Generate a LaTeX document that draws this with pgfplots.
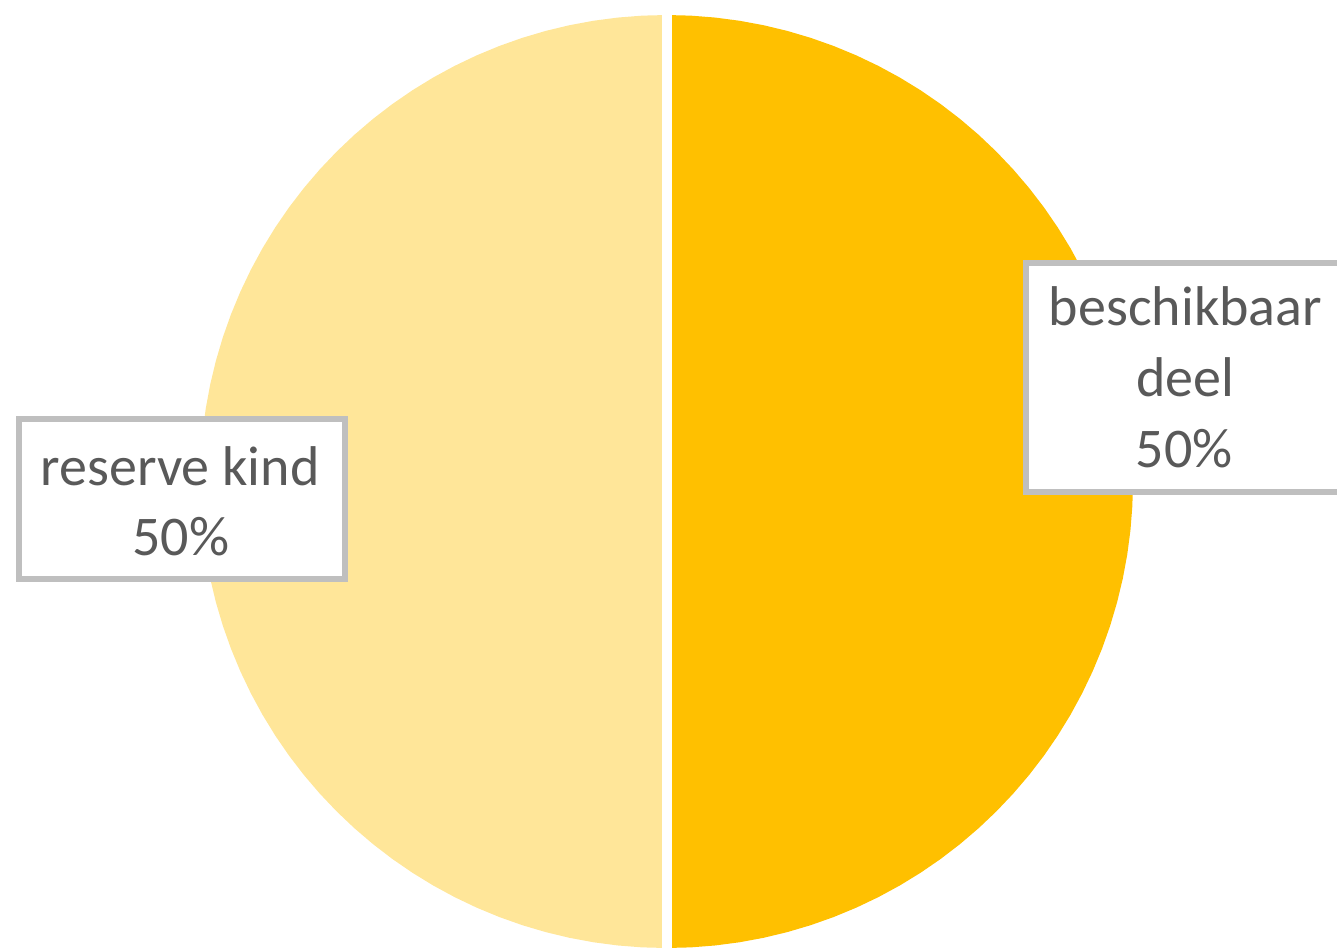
\documentclass[border=0pt]{standalone}
\usepackage{pgfplots}
\pgfplotsset{compat=1.18}
\usepgfplotslibrary{polar}
\usepackage{fontspec}
\setmainfont{Carlito}
\definecolor{reservecol}{HTML}{FFE699}
\definecolor{beschikcol}{HTML}{FFC000}
\definecolor{boxgray}{HTML}{BFBFBF}
\definecolor{txtgray}{HTML}{595959}
\begin{document}
\begin{tikzpicture}
% page = 1337 x 950 px, 1 px = 0.5pt
\path[use as bounding box] (0,0) rectangle (668.5pt,475pt);
\begin{polaraxis}[
    hide axis,
    scale only axis,
    width=466.5pt, height=466.5pt,
    xmin=0, xmax=360,
    ymin=0, ymax=1,
    clip=false,
    anchor=center,
    at={(333.25pt,234.25pt)},
]
% reserve kind, 50%
\addplot[fill=reservecol, draw=none] coordinates {
    (0,0) (90,1) (93,1) (96,1) (99,1) (102,1) (105,1) (108,1) (111,1)
    (114,1) (117,1) (120,1) (123,1) (126,1) (129,1) (132,1) (135,1) (138,1)
    (141,1) (144,1) (147,1) (150,1) (153,1) (156,1) (159,1) (162,1) (165,1)
    (168,1) (171,1) (174,1) (177,1) (180,1) (183,1) (186,1) (189,1) (192,1)
    (195,1) (198,1) (201,1) (204,1) (207,1) (210,1) (213,1) (216,1) (219,1)
    (222,1) (225,1) (228,1) (231,1) (234,1) (237,1) (240,1) (243,1) (246,1)
    (249,1) (252,1) (255,1) (258,1) (261,1) (264,1) (267,1) (270,1)
};
% beschikbaar deel, 50%
\addplot[fill=beschikcol, draw=none] coordinates {
    (0,0) (-90,1) (-87,1) (-84,1) (-81,1) (-78,1) (-75,1) (-72,1) (-69,1)
    (-66,1) (-63,1) (-60,1) (-57,1) (-54,1) (-51,1) (-48,1) (-45,1) (-42,1)
    (-39,1) (-36,1) (-33,1) (-30,1) (-27,1) (-24,1) (-21,1) (-18,1) (-15,1)
    (-12,1) (-9,1) (-6,1) (-3,1) (0,1) (3,1) (6,1) (9,1) (12,1)
    (15,1) (18,1) (21,1) (24,1) (27,1) (30,1) (33,1) (36,1) (39,1)
    (42,1) (45,1) (48,1) (51,1) (54,1) (57,1) (60,1) (63,1) (66,1)
    (69,1) (72,1) (75,1) (78,1) (81,1) (84,1) (87,1) (90,1)
};
% slice border
\addplot[white, line width=5pt] coordinates {(90,1.02) (270,1.02)};
\end{polaraxis}
\begin{scope}[x=0.5pt, y=0.5pt]
  \draw[boxgray, line width=3pt, fill=white] (19,531) rectangle (345,371);
  \draw[boxgray, line width=3pt, fill=white] (1026,687) rectangle (1344,458);
  \begin{scope}[every node/.style={anchor=base, inner sep=0pt, text=txtgray,
      font=\fontsize{28pt}{35.5pt}\selectfont}]
    \node at (180,465) {reserve kind};
    \node at (181,395) {50\%};
    \node at (1185.5,625) {beschikbaar};
    \node at (1185,554) {deel};
    \node at (1184,483) {50\%};
  \end{scope}
\end{scope}
\end{tikzpicture}
\end{document}
